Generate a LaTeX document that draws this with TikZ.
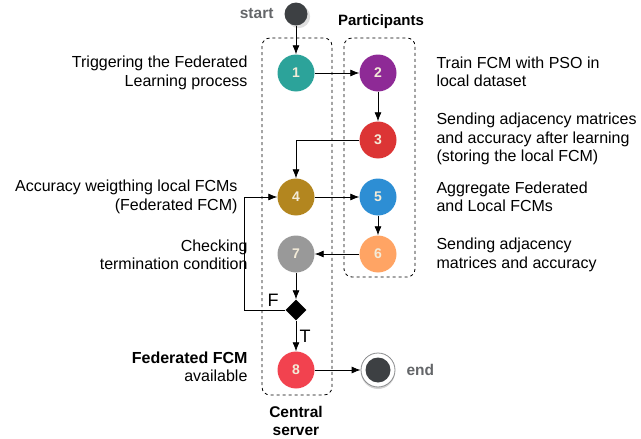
\documentclass[tikz,border=0pt]{standalone}
\usepackage{fontspec}
\setmainfont{Liberation Sans}
\usetikzlibrary{shapes,arrows,arrows.meta,shadows}
\definecolor{cteal}{HTML}{2CA39A}
\definecolor{cpurple}{HTML}{8E2A96}
\definecolor{cred}{HTML}{DC3535}
\definecolor{cgold}{HTML}{B3861F}
\definecolor{cblue}{HTML}{2D8ED4}
\definecolor{corange}{HTML}{FFA464}
\definecolor{cgray}{HTML}{999999}
\definecolor{cpink}{HTML}{F2424F}
\definecolor{cdark}{HTML}{3D4043}
\definecolor{ctext}{HTML}{F3EBD8}
\tikzset{%
	stage/.style    = {circle, minimum size = 37pt, inner sep = 0pt,
		text = ctext, font = \fontsize{14}{14}\selectfont\bfseries},
	decision/.style = {diamond, fill = black, minimum size = 21pt, inner sep = 0pt}, % Condition
	lane/.style     = {draw, dashed, thick, rounded corners = 8pt}, % Swimlane
	note/.style     = {font = \fontsize{16}{18.5}\selectfont}, % Description
	link/.style     = {thick, -{Latex[length=9pt, width=7pt]}} % Connector
}

\begin{document}
\begin{tikzpicture}[x=1pt,y=-1pt]
                \useasboundingbox (0,0) rectangle (641,439);
                \draw[lane] (262,38) rectangle (332,395);
                \draw[lane] (344,38) rectangle (415,277);
                \node[font=\fontsize{15}{16}\selectfont\bfseries] (part) at (381,22) {Participants};
                \node[font=\fontsize{15.5}{18}\selectfont\bfseries, align=center] (cent) at (296,421) {Central\\server};

                \node[circle, fill=cdark, minimum size=23pt, inner sep=0pt, drop shadow={opacity=0.25}] (start) at (296,14) {};
                \node[text=cdark!80, font=\fontsize{15.5}{14}\selectfont\bfseries, anchor=east] (startlbl) at (277,14) {start};

                \node[stage, fill=cteal]   (s1) at (296,73)  {1};
                \node[stage, fill=cpurple] (s2) at (378,73)  {2};
                \node[stage, fill=cred]    (s3) at (378,140) {3};
                \node[stage, fill=cgold]   (s4) at (296,197) {4};
                \node[stage, fill=cblue]   (s5) at (378,197) {5};
                \node[stage, fill=corange] (s6) at (378,254) {6};
                \node[stage, fill=cgray]   (s7) at (296,254) {7};
                \node[decision]            (dec) at (296,310) {};
                \node[stage, fill=cpink]   (s8) at (296,370) {8};

                \node[circle, draw=cdark!60, fill=white, line width=0.8pt, minimum size=34pt, inner sep=0pt, drop shadow={opacity=0.35, shadow xshift=0pt, shadow yshift=-2pt}] (stop) at (378,370) {};
                \node[circle, fill=cdark, minimum size=25pt, inner sep=0pt] at (stop) {};
                \node[text=cdark!80, font=\fontsize{15.5}{14}\selectfont\bfseries, anchor=west] (stoplbl) at (403,370) {end};

                % descriptions, left side
                \node[note, align=right, anchor=east] (d1) at (251,73)  {Triggering the Federated\\Learning process};
                \node[note, align=right, anchor=east] (d4) at (241,197) {Accuracy weigthing local FCMs\\(Federated FCM)};
                \node[note, align=right, anchor=east] (d7) at (251,255) {Checking\\termination condition};
                \node[note, align=right, anchor=east] (d8) at (251,367) {\textbf{Federated FCM}\\available};

                % descriptions, right side
                \node[note, align=left, anchor=west] (d2) at (433,72)  {Train FCM with PSO in\\local dataset};
                \node[note, align=left, anchor=west] (d3) at (433,139) {Sending adjacency matrices\\and accuracy after learning\\(storing the local FCM)};
                \node[note, align=left, anchor=west] (d5) at (433,197) {Aggregate Federated\\and Local FCMs};
                \node[note, align=left, anchor=west] (d6) at (433,255) {Sending adjacency\\matrices and accuracy};

                \draw[link] (start) -- (s1);
                \draw[link] (s1) -- (s2);
                \draw[link] (s2) -- (s3);
                \draw[link] (s3) -| (s4);
                \draw[link] (s4) -- (s5);
                \draw[link] (s5) -- (s6);
                \draw[link] (s6) -- (s7);
                \draw[link] (s7) -- (dec);
                \draw[link] (dec) -- node[right, note, font=\fontsize{18}{18}\selectfont] {T} (s8);
                \draw[link] (dec.west) -- node[above, note, pos=0.3, font=\fontsize{18}{18}\selectfont] {F} ++(-41,0) |- (s4);
                \draw[link] (s8) -- (stop);
            \end{tikzpicture}
\end{document}
